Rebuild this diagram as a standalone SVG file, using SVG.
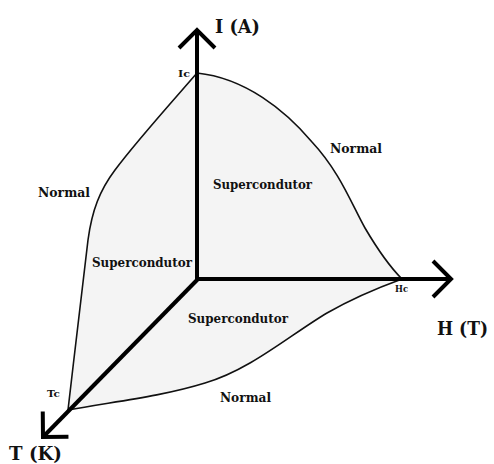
<svg xmlns="http://www.w3.org/2000/svg" width="494" height="464" viewBox="0 0 494 464">
<style>
.lbl{font-family:"DejaVu Serif","Liberation Serif","Times New Roman",serif;font-weight:bold;fill:#111;}
.sm{font-size:10px;}
.md{font-size:12px;}
.lg{font-size:19px;}
.curve{fill:none;stroke:#111;stroke-width:1.6;}
.axis{fill:none;stroke:#000;stroke-width:4;}
</style>
<defs>
<marker id="chev" markerUnits="userSpaceOnUse" markerWidth="40" markerHeight="40" viewBox="-30 -20 40 40" refX="0" refY="0" orient="auto" overflow="visible">
<path d="M-18,-18 L0,0 L-18,18" fill="none" stroke="#000" stroke-width="4" stroke-linejoin="miter"/>
</marker>
</defs>
<rect width="494" height="464" fill="#fff"/>
<g id="region">
<path d="M197,73 C245,78 285,110 312,142 C340,172 352,205 365,228 C375,245 388,265 402,279 C380,287 355,297 327,313 C290,335 250,370 205,383 C160,397 110,402 68,410 C75,350 83,280 88,240 C92,210 100,190 115,170 C135,143 170,104 197,73 Z" fill="#f4f4f4" stroke="none"/>
</g>
<g id="curves">
<path class="curve" d="M197,73 C245,78 285,110 312,142 C340,172 352,205 365,228 C375,245 388,265 402,279"/>
<path class="curve" d="M197,73 C170,104 135,143 115,170 C100,190 92,210 88,240 C83,280 75,350 68,410"/>
<path class="curve" d="M68,410 C110,402 160,397 205,383 C250,370 290,335 327,313 C355,297 380,287 402,279"/>
</g>
<g id="connectors">
<line class="axis" x1="197" y1="280" x2="197" y2="30" marker-end="url(#chev)"/>
<line class="axis" x1="195" y1="279" x2="451" y2="279" marker-end="url(#chev)"/>
<line class="axis" x1="198" y1="279" x2="43" y2="437" marker-end="url(#chev)"/>
</g>
<g id="axis-I"><text class="lbl lg" x="215" y="33" textLength="45" lengthAdjust="spacingAndGlyphs">I (A)</text></g>
<g id="axis-H"><text class="lbl lg" x="437" y="335" textLength="51" lengthAdjust="spacingAndGlyphs">H (T)</text></g>
<g id="axis-T"><text class="lbl lg" x="9" y="460" textLength="53" lengthAdjust="spacingAndGlyphs">T (K)</text></g>
<g id="Ic"><text class="lbl sm" x="178" y="77" textLength="12" lengthAdjust="spacingAndGlyphs">Ic</text></g>
<g id="Hc"><text class="lbl sm" x="395" y="292" textLength="13" lengthAdjust="spacingAndGlyphs">Hc</text></g>
<g id="Tc"><text class="lbl sm" x="47" y="397" textLength="13" lengthAdjust="spacingAndGlyphs">Tc</text></g>
<g id="normal-IH"><text class="lbl md" x="330" y="153" textLength="52" lengthAdjust="spacingAndGlyphs">Normal</text></g>
<g id="normal-IT"><text class="lbl md" x="38" y="197" textLength="52" lengthAdjust="spacingAndGlyphs">Normal</text></g>
<g id="normal-HT"><text class="lbl md" x="220" y="402" textLength="51" lengthAdjust="spacingAndGlyphs">Normal</text></g>
<g id="sc-IH"><text class="lbl md" x="213" y="189" textLength="99" lengthAdjust="spacingAndGlyphs">Supercondutor</text></g>
<g id="sc-IT"><text class="lbl md" x="92" y="267" textLength="100" lengthAdjust="spacingAndGlyphs">Supercondutor</text></g>
<g id="sc-HT"><text class="lbl md" x="188" y="323" textLength="100" lengthAdjust="spacingAndGlyphs">Supercondutor</text></g>
</svg>
